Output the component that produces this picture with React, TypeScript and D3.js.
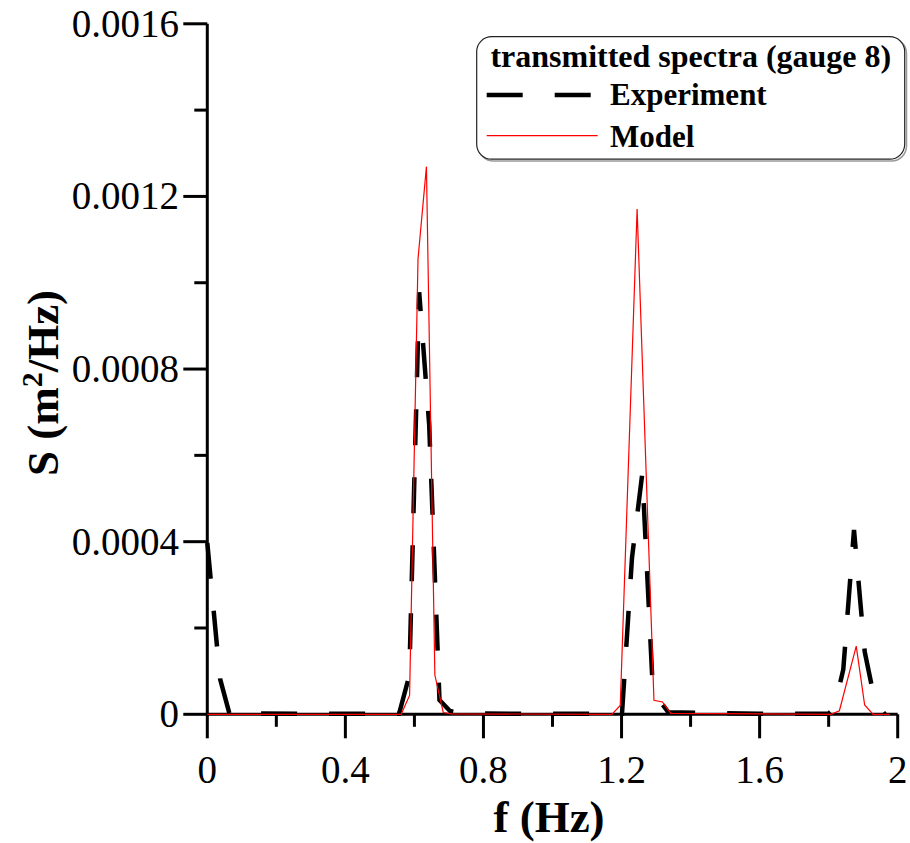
import React, { useRef, useEffect } from 'react';
import * as d3 from 'd3';

// Experiment (black dashed): frequency (Hz) and spectral density (m^2/Hz)
const expFreq = [0, 0.037, 0.064, 0.3, 0.5555, 0.5852, 0.6138, 0.6428, 0.6726, 0.703, 0.738, 1.0,
  1.2013, 1.2303, 1.2601, 1.289, 1.3134, 1.335, 1.6, 1.799, 1.8163, 1.8424, 1.8734, 1.9044, 1.9342, 1.963];
const expS = [0.000397, 0.000082, 0.000002, 0.000001, 0.000001, 0.00009, 0.000978, 0.00067, 0.000033, 0.0000076, 0.000002, 0.000001,
  0.000001, 0.000363, 0.000558, 0.0000843, 0.0000285, 0.000005, 0.000001, 0.000001, 0.0000139, 0.000104, 0.000427, 0.000145, 0.000029, 0];

// Model (thin red)
const modelFreq = [0, 0.5615, 0.586, 0.6104, 0.6348, 0.6592, 0.6836, 0.708, 1.1719, 1.1963, 1.2451, 1.2939, 1.3184, 1.3428,
  1.8066, 1.8311, 1.8799, 1.9043, 1.9287, 1.9775];
const modelS = [0, 0, 0.0000436, 0.001055, 0.001269, 0.000091, 0.000004, 0.000001, 0, 0.0000206, 0.001171, 0.0000324, 0.0000285, 0.000002,
  0, 0.0000083, 0.000158, 0.0000215, 0, 0];

const xTickLabels = ['0', '0.4', '0.8', '1.2', '1.6', '2'];
const xMinorTicks = [0.2, 0.6, 1.0, 1.4, 1.8];
const yTickLabels = ['0', '0.0004', '0.0008', '0.0012', '0.0016'];
const yMinorTicks = [0.0002, 0.0006, 0.001, 0.0014];
const legendTitle = 'transmitted spectra (gauge 8)';
const seriesNames = ['Experiment', 'Model'];

export default function App() {
  const svgRef = useRef<SVGSVGElement | null>(null);

  useEffect(() => {
    const svg = d3.select(svgRef.current);
    svg.selectAll('*').remove();

    const x = d3.scaleLinear().domain([0, 2]).range([207.3, 897.7]);
    const y = d3.scaleLinear().domain([0, 0.0016]).range([714.3, 23.8]);
    const serif = '"Liberation Serif", "Times New Roman", serif';

    // axes lines
    const ax = svg.append('g').attr('stroke', '#000').attr('stroke-width', 3);
    ax.append('line').attr('x1', x(0)).attr('x2', x(2)).attr('y1', y(0)).attr('y2', y(0));
    ax.append('line').attr('x1', x(0)).attr('x2', x(0)).attr('y1', y(0)).attr('y2', y(0.0016));

    // ticks: major labelled, minor in between
    xTickLabels.forEach(l => {
      const t = +l;
      ax.append('line').attr('x1', x(t)).attr('x2', x(t)).attr('y1', y(0)).attr('y2', y(0) + 24);
      svg.append('text').attr('x', x(t)).attr('y', 783).attr('text-anchor', 'middle')
        .attr('font-family', serif).attr('font-size', 39).text(l);
    });
    xMinorTicks.forEach(t => {
      ax.append('line').attr('x1', x(t)).attr('x2', x(t)).attr('y1', y(0)).attr('y2', y(0) + 12.5);
    });
    yTickLabels.forEach(l => {
      const t = +l;
      ax.append('line').attr('x1', x(0) - 24).attr('x2', x(0)).attr('y1', y(t)).attr('y2', y(t));
      svg.append('text').attr('x', 179).attr('y', y(t) + 13).attr('text-anchor', 'end')
        .attr('font-family', serif).attr('font-size', 39).text(l);
    });
    yMinorTicks.forEach(t => {
      ax.append('line').attr('x1', x(0) - 13).attr('x2', x(0)).attr('y1', y(t)).attr('y2', y(t));
    });

    // axis titles
    svg.append('text').attr('x', 549).attr('y', 832).attr('text-anchor', 'middle')
      .attr('font-family', serif).attr('font-weight', 'bold').attr('font-size', 45).text('f (Hz)');
    const yt = svg.append('text').attr('transform', 'translate(58,383) rotate(-90)').attr('text-anchor', 'middle')
      .attr('font-family', serif).attr('font-weight', 'bold').attr('font-size', 45);
    yt.append('tspan').text('S (m');
    yt.append('tspan').attr('font-size', 30).attr('dy', -16).text('2');
    yt.append('tspan').attr('dy', 16).text('/Hz)');

    const line = d3.line<[number, number]>().x(d => x(d[0])).y(d => y(d[1]));

    svg.append('path')
      .datum(expFreq.map((f, i) => [f, expS[i]] as [number, number]))
      .attr('d', line).attr('fill', 'none').attr('stroke', '#000')
      .attr('stroke-width', 4.5).attr('stroke-dasharray', '36,32');

    svg.append('path')
      .datum(modelFreq.map((f, i) => [f, modelS[i]] as [number, number]))
      .attr('d', line).attr('fill', 'none').attr('stroke', '#ff0000').attr('stroke-width', 1.2);

    // legend
    const lg = svg.append('g');
    lg.append('rect').attr('x', 478.5).attr('y', 38.5).attr('width', 428).attr('height', 122.5).attr('rx', 15)
      .attr('fill', 'none').attr('stroke', '#999').attr('stroke-width', 1.5);
    lg.append('rect').attr('x', 476.7).attr('y', 36.7).attr('width', 428).attr('height', 122.5).attr('rx', 15)
      .attr('fill', '#fff').attr('stroke', '#222').attr('stroke-width', 1.2);
    lg.append('text').attr('x', 690.8).attr('y', 66.7).attr('text-anchor', 'middle')
      .attr('font-family', serif).attr('font-weight', 'bold').attr('font-size', 32).text(legendTitle);
    lg.append('line').attr('x1', 486.7).attr('x2', 591.7).attr('y1', 95).attr('y2', 95)
      .attr('stroke', '#000').attr('stroke-width', 4.5).attr('stroke-dasharray', '36,32');
    lg.append('line').attr('x1', 486.7).attr('x2', 597.7).attr('y1', 135.7).attr('y2', 135.7)
      .attr('stroke', '#ff0000').attr('stroke-width', 1.2);
    lg.append('text').attr('x', 610).attr('y', 105).attr('font-family', serif).attr('font-weight', 'bold')
      .attr('font-size', 31).text(seriesNames[0]);
    lg.append('text').attr('x', 610).attr('y', 146.7).attr('font-family', serif).attr('font-weight', 'bold')
      .attr('font-size', 31).text(seriesNames[1]);
  }, []);

  return (
    <svg ref={svgRef} width={910} height={843}
      style={{ position: 'absolute', left: 0, top: 0, background: '#fff' }} />
  );
}
